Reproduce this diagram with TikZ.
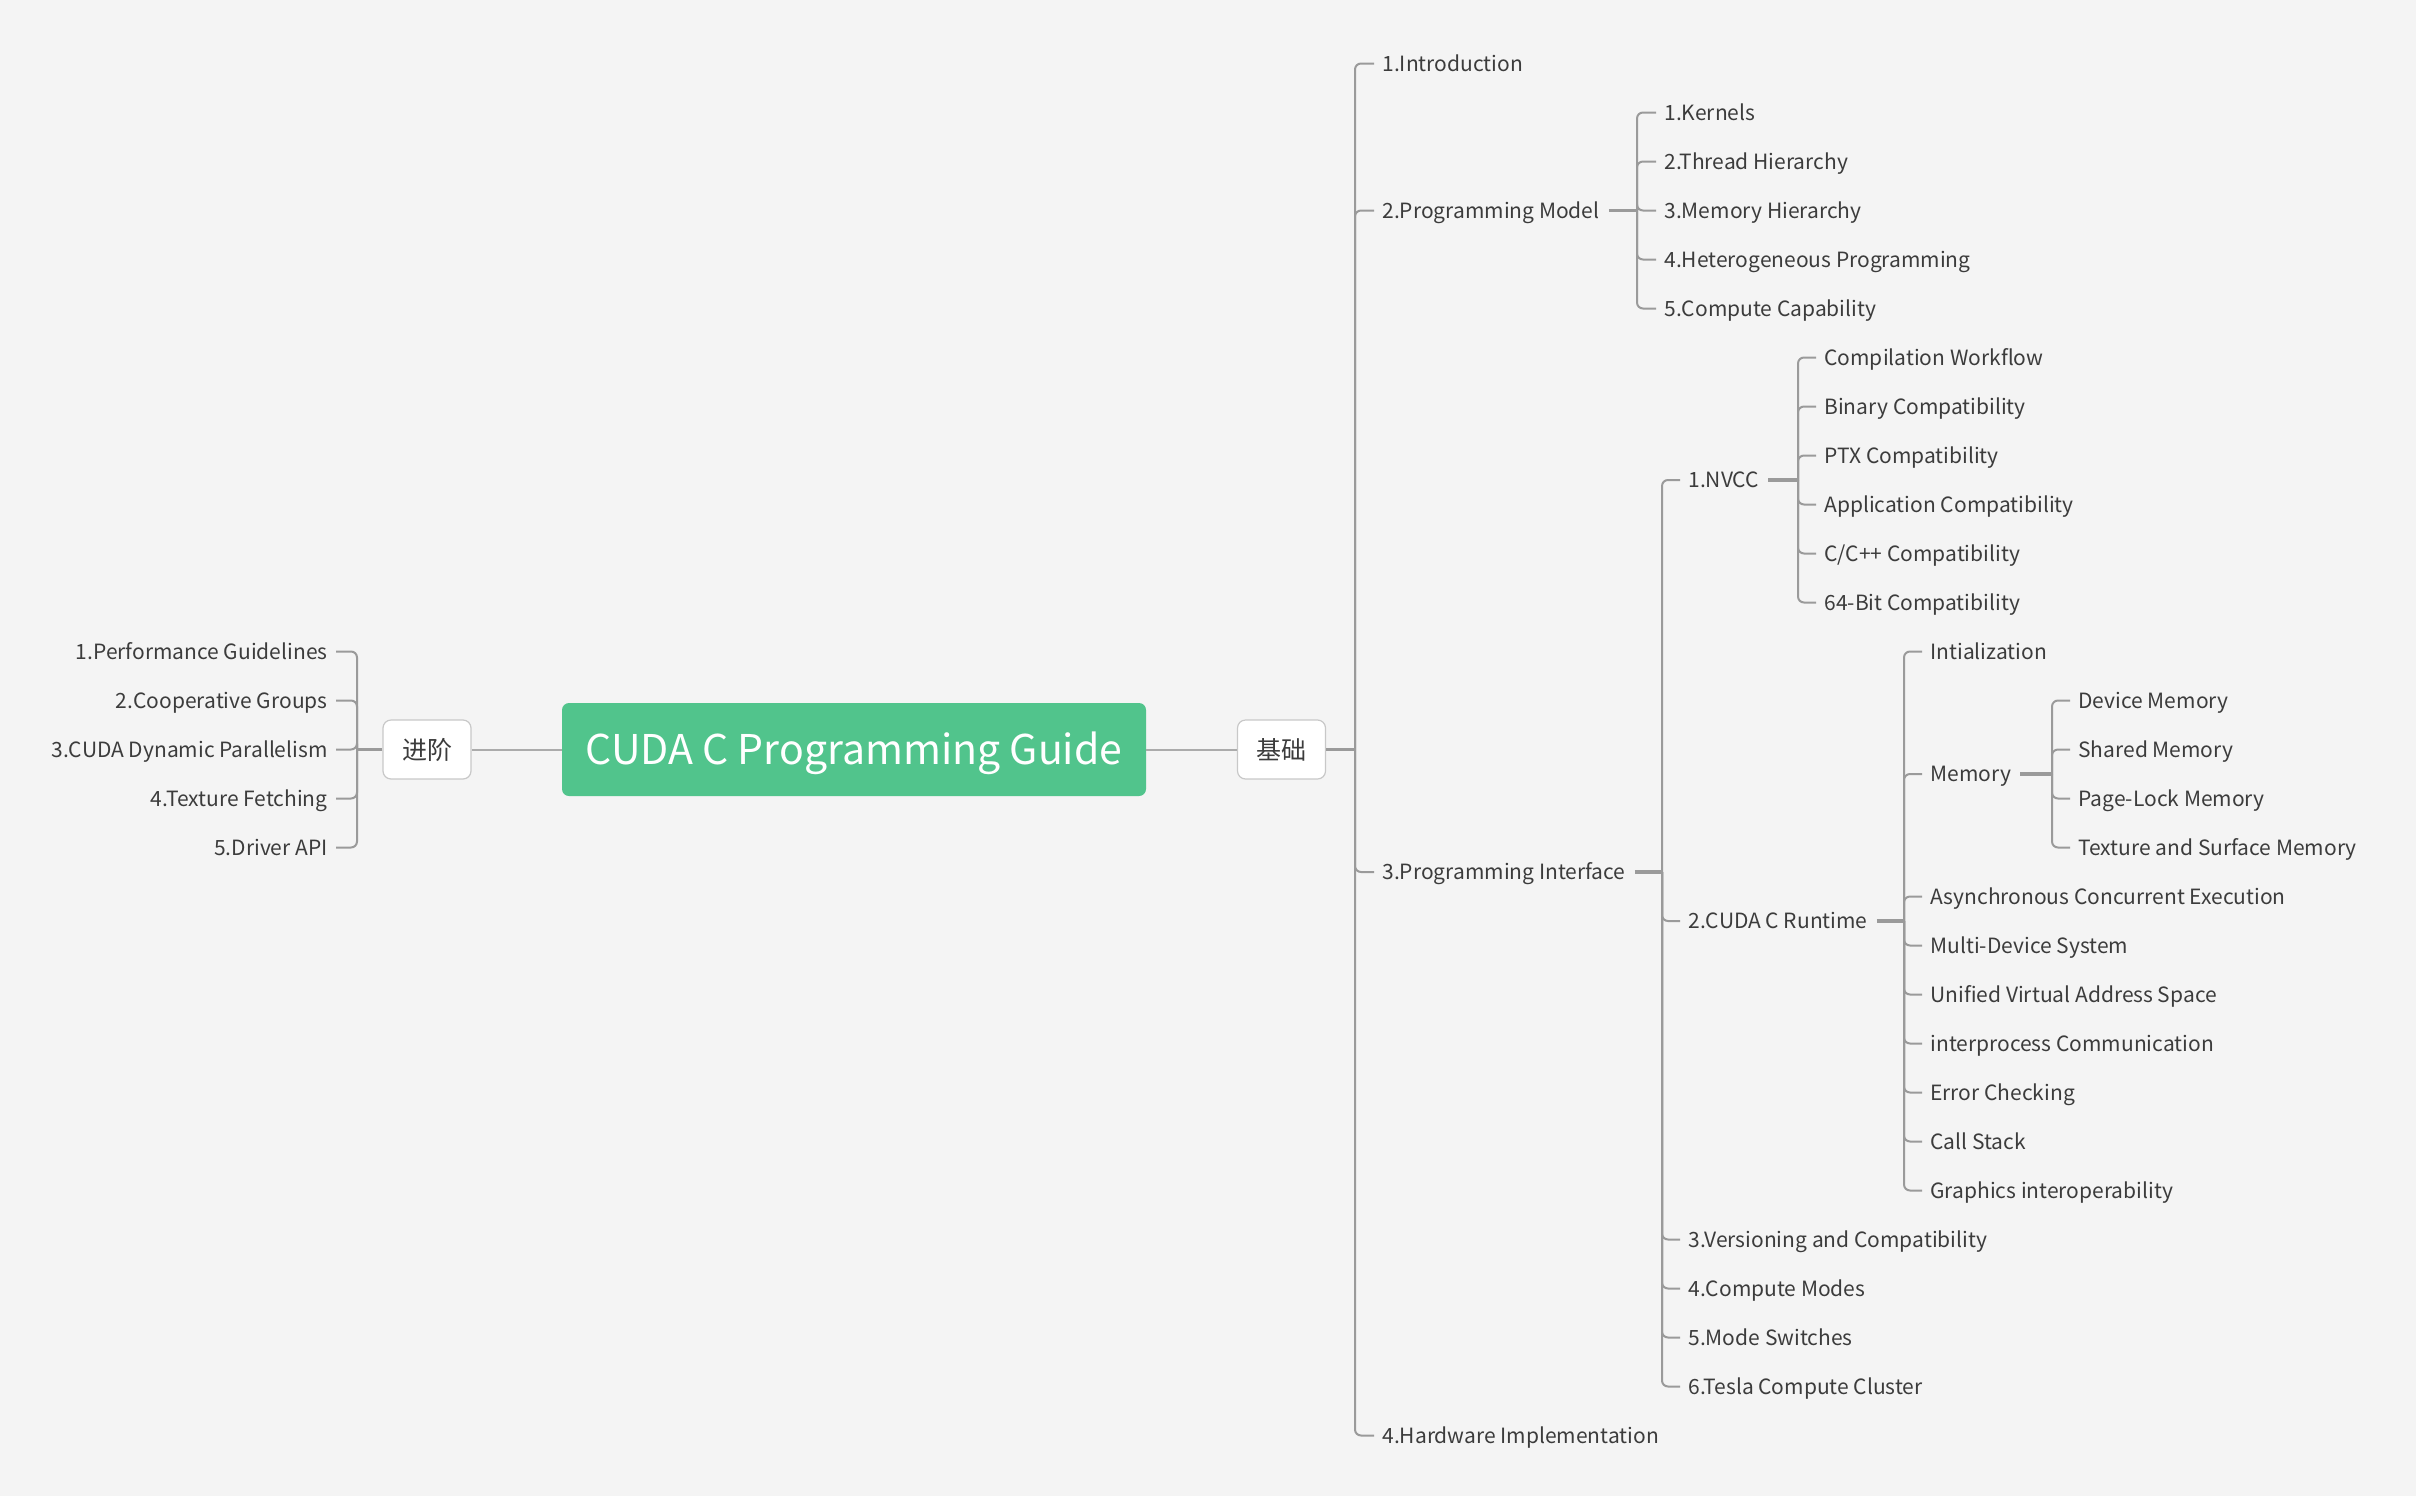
\documentclass[tikz,border=0pt]{standalone}
\usepackage{fontspec}
\setmainfont{Noto Sans CJK SC}
\definecolor{bgc}{HTML}{F4F4F4}
\definecolor{mmgreen}{HTML}{51C48C}
\definecolor{linec}{HTML}{9A9A9A}
\definecolor{linel}{HTML}{ABABAB}
\definecolor{txt}{HTML}{3C3C3C}
\definecolor{boxb}{HTML}{C8C8C8}
\begin{document}
\begin{tikzpicture}[x=0.5pt,y=-0.5pt,
  leaf/.style={font=\fontsize{10.5}{12.5}\selectfont, text=txt, inner sep=0pt, text height=7.7pt, text depth=0pt},
  lw/.style={leaf,anchor=west},
  le/.style={leaf,anchor=east},
  branch/.style={draw=linec, line width=1pt, rounded corners=3pt},
  trunk/.style={draw=linec, line width=1.6pt},
  link/.style={draw=linel, line width=1pt},
  sidebox/.style={draw=boxb, line width=0.6pt, fill=white, rounded corners=4pt, minimum width=44pt, minimum height=29.5pt, inner sep=0pt, text height=9.5pt, text depth=0pt, font=\fontsize{12.5}{14}\selectfont, text=txt},
  root/.style={fill=mmgreen, rounded corners=3.5pt, minimum width=292pt, minimum height=46.5pt, inner sep=0pt, text height=15pt, text depth=0pt, text=white, font=\fontsize{20.5}{24}\selectfont}]
\useasboundingbox (0,0) rectangle (2431,1505);
\fill[white] (0,0) rectangle (2431,1505);
\fill[bgc] (0,0) rectangle (2416,1496);

% main nodes
\node[root] (root) at (854,749.5) {CUDA C Programming Guide};
\node[sidebox] (adv) at (427,749.5) {进阶};
\node[sidebox] (basic) at (1281.5,749.5) {基础};

% left branch
\coordinate (Jl) at (357,749.5);
\node[le] (a1) at (328,651.5) {1.Performance Guidelines};
\node[le] (a2) at (328,700.5) {2.Cooperative Groups};
\node[le] (a3) at (328,749.5) {3.CUDA Dynamic Parallelism};
\node[le] (a4) at (328,798.5) {4.Texture Fetching};
\node[le] (a5) at (328,847.5) {5.Driver API};

% right level 1
\coordinate (J1) at (1355,749.5);
\node[lw] (b1) at (1382,63.5) {1.Introduction};
\node[lw] (b2) at (1382,210.5) {2.Programming Model};
\node[lw] (b3) at (1382,872) {3.Programming Interface};
\node[lw] (b4) at (1382,1435.5) {4.Hardware Implementation};

% programming model
\coordinate (Jpm) at (1637,210.5);
\node[lw] (pm1) at (1664,112.5) {1.Kernels};
\node[lw] (pm2) at (1664,161.5) {2.Thread Hierarchy};
\node[lw] (pm3) at (1664,210.5) {3.Memory Hierarchy};
\node[lw] (pm4) at (1664,259.5) {4.Heterogeneous Programming};
\node[lw] (pm5) at (1664,308.5) {5.Compute Capability};

% programming interface
\coordinate (Jpi) at (1662,872);
\node[lw] (pi1) at (1688,480) {1.NVCC};
\node[lw] (pi2) at (1688,921) {2.CUDA C Runtime};
\node[lw] (pi3) at (1688,1239.5) {3.Versioning and Compatibility};
\node[lw] (pi4) at (1688,1288.5) {4.Compute Modes};
\node[lw] (pi5) at (1688,1337.5) {5.Mode Switches};
\node[lw] (pi6) at (1688,1386.5) {6.Tesla Compute Cluster};

% nvcc
\coordinate (Jnv) at (1798,480);
\node[lw] (nv1) at (1824,357.5) {Compilation Workflow};
\node[lw] (nv2) at (1824,406.5) {Binary Compatibility};
\node[lw] (nv3) at (1824,455.5) {PTX Compatibility};
\node[lw] (nv4) at (1824,504.5) {Application Compatibility};
\node[lw] (nv5) at (1824,553.5) {C/C++ Compatibility};
\node[lw] (nv6) at (1824,602.5) {64-Bit Compatibility};

% runtime
\coordinate (Jrt) at (1904,921);
\node[lw] (rt1) at (1930,651.5) {Intialization};
\node[lw] (rt2) at (1930,774) {Memory};
\node[lw] (rt3) at (1930,896.5) {Asynchronous Concurrent Execution};
\node[lw] (rt4) at (1930,945.5) {Multi-Device System};
\node[lw] (rt5) at (1930,994.5) {Unified Virtual Address Space};
\node[lw] (rt6) at (1930,1043.5) {interprocess Communication};
\node[lw] (rt7) at (1930,1092.5) {Error Checking};
\node[lw] (rt8) at (1930,1141.5) {Call Stack};
\node[lw] (rt9) at (1930,1190.5) {Graphics interoperability};

% memory
\coordinate (Jmem) at (2052,774);
\node[lw] (m1) at (2078,700.5) {Device Memory};
\node[lw] (m2) at (2078,749.5) {Shared Memory};
\node[lw] (m3) at (2078,798.5) {Page-Lock Memory};
\node[lw] (m4) at (2078,847.5) {Texture and Surface Memory};

% connectors
\draw[link] (root.west) -- (adv.east);
\draw[link] (root.east) -- (basic.west);
\draw[trunk] (adv.west) -- (Jl);
\draw[trunk] (basic.east) -- (J1);
\draw[trunk] ([xshift=4.5pt]b2.east) -- (Jpm);
\draw[trunk] ([xshift=4.5pt]b3.east) -- (Jpi);
\draw[trunk] ([xshift=4.5pt]pi1.east) -- (Jnv);
\draw[trunk] ([xshift=4.5pt]pi2.east) -- (Jrt);
\draw[trunk] ([xshift=4.5pt]rt2.east) -- (Jmem);

\foreach \n in {a1,a2,a3,a4,a5}
  \draw[branch] (Jl) |- ([xshift=4pt]\n.east);
\foreach \n in {b1,b2,b3,b4}
  \draw[branch] (J1) |- ([xshift=-4pt]\n.west);
\foreach \n in {pm1,pm2,pm3,pm4,pm5}
  \draw[branch] (Jpm) |- ([xshift=-4pt]\n.west);
\foreach \n in {pi1,pi2,pi3,pi4,pi5,pi6}
  \draw[branch] (Jpi) |- ([xshift=-4pt]\n.west);
\foreach \n in {nv1,nv2,nv3,nv4,nv5,nv6}
  \draw[branch] (Jnv) |- ([xshift=-4pt]\n.west);
\foreach \n in {rt1,rt2,rt3,rt4,rt5,rt6,rt7,rt8,rt9}
  \draw[branch] (Jrt) |- ([xshift=-4pt]\n.west);
\foreach \n in {m1,m2,m3,m4}
  \draw[branch] (Jmem) |- ([xshift=-4pt]\n.west);
\end{tikzpicture}
\end{document}
